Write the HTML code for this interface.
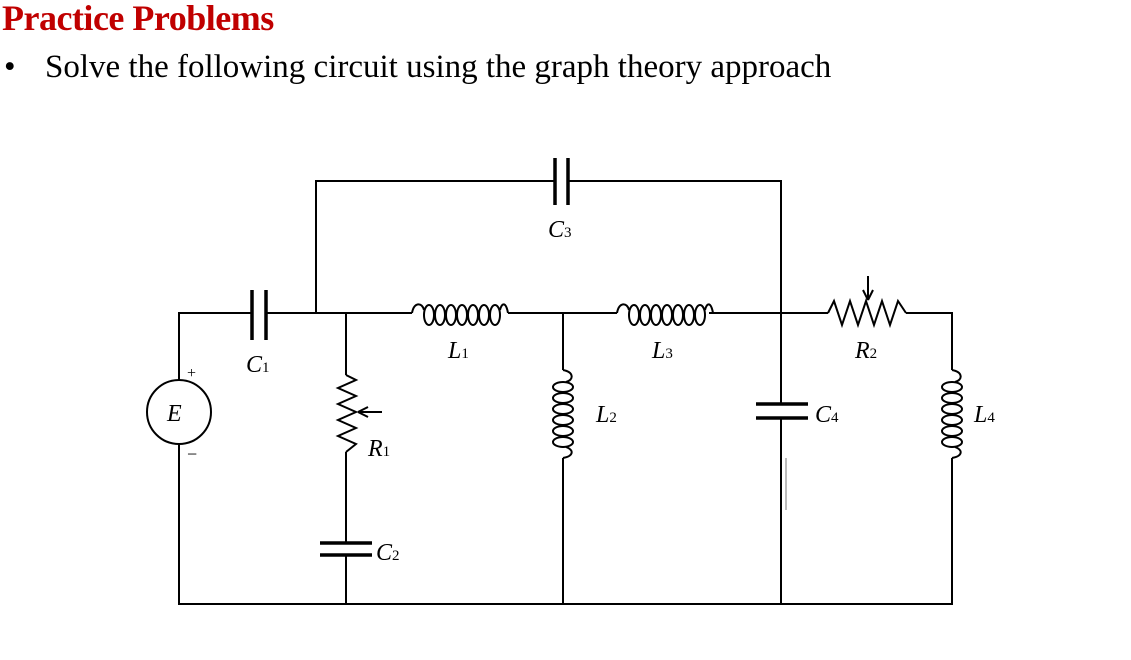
<!DOCTYPE html>
<html><head><style>
body{margin:0;background:#fff;width:1131px;height:660px;overflow:hidden;position:relative}
.t{position:absolute;left:2px;top:-3px;font:bold 36px "Liberation Serif",serif;color:#c00000;letter-spacing:-0.5px}
.b{position:absolute;left:4px;top:49px;font:33px "Liberation Serif",serif;color:#000}
.s{position:absolute;left:45px;top:49px;font:33px "Liberation Serif",serif;color:#000}
</style></head><body>
<div class="t">Practice Problems</div>
<div class="b">•</div>
<div class="s">Solve the following circuit using the graph theory approach</div>
<svg width="1131" height="660" style="position:absolute;left:0;top:0" font-family="Liberation Serif,serif" font-style="italic" font-size="24">
<g stroke="#000" stroke-width="2" fill="none">
<path d="M179 380V313H252M266 313H346M316 313V181H555M568 181H781V404M781 418V604M179 444V604H952V458M952 370V313H906M828 313H781M346 313H412M508 313H617M709 313H781M563 313V370M563 458V604M346 313V375M346 452V543M346 555V604"/>
<g stroke-width="3.5">
<path d="M252 290V340M266 290V340M555 158V205M568 158V205M320 543H372M320 555H372M756 404H808M756 418H808"/>
</g>
<circle cx="179" cy="412" r="32"/>
<path d="M346 375L356 380L338 388L356 396L338 404L356 412L338 420L356 428L338 436L356 444L346 452"/>
<path d="M382 412H358M358 412L368 407M358 412L368 417"/>
<path d="M828 313L834 301L842 325L850 301L858 325L866 301L874 325L882 301L890 325L898 301L906 313"/>
<path d="M868 276V300M868 300L863 290M868 300L873 290"/>
<g id="lh">
<path d="M412 313C414 302 422 302 424 310"/>
<ellipse cx="429" cy="315" rx="5" ry="10"/><ellipse cx="440" cy="315" rx="5" ry="10"/><ellipse cx="451" cy="315" rx="5" ry="10"/><ellipse cx="462" cy="315" rx="5" ry="10"/><ellipse cx="473" cy="315" rx="5" ry="10"/><ellipse cx="484" cy="315" rx="5" ry="10"/><ellipse cx="495" cy="315" rx="5" ry="10"/>
<path d="M500 310C502 302 506 302 508 313"/>
</g>
<use href="#lh" x="205"/>
<g id="lv">
<path d="M563 370C574 372 574 380 566 382"/>
<ellipse cx="563" cy="387" rx="10" ry="5"/><ellipse cx="563" cy="398" rx="10" ry="5"/><ellipse cx="563" cy="409" rx="10" ry="5"/><ellipse cx="563" cy="420" rx="10" ry="5"/><ellipse cx="563" cy="431" rx="10" ry="5"/><ellipse cx="563" cy="442" rx="10" ry="5"/>
<path d="M566 447C574 450 574 456 563 458"/>
</g>
<use href="#lv" x="389"/>
</g>
<path d="M786 458V510" stroke="#bbb" stroke-width="2"/>
<g fill="#000">
<text x="167" y="421">E</text>
<text x="187" y="378" font-style="normal" font-size="16">+</text>
<text x="187" y="460" font-style="normal" font-size="18">−</text>
<text x="246" y="372">C<tspan font-size="15" font-style="normal">1</tspan></text>
<text x="548" y="237">C<tspan font-size="15" font-style="normal">3</tspan></text>
<text x="448" y="358">L<tspan font-size="15" font-style="normal">1</tspan></text>
<text x="652" y="358">L<tspan font-size="15" font-style="normal">3</tspan></text>
<text x="855" y="358">R<tspan font-size="15" font-style="normal">2</tspan></text>
<text x="368" y="456">R<tspan font-size="15" font-style="normal">1</tspan></text>
<text x="376" y="560">C<tspan font-size="15" font-style="normal">2</tspan></text>
<text x="596" y="422">L<tspan font-size="15" font-style="normal">2</tspan></text>
<text x="815" y="422">C<tspan font-size="15" font-style="normal">4</tspan></text>
<text x="974" y="422">L<tspan font-size="15" font-style="normal">4</tspan></text>
</g>
</svg>
</body></html>
